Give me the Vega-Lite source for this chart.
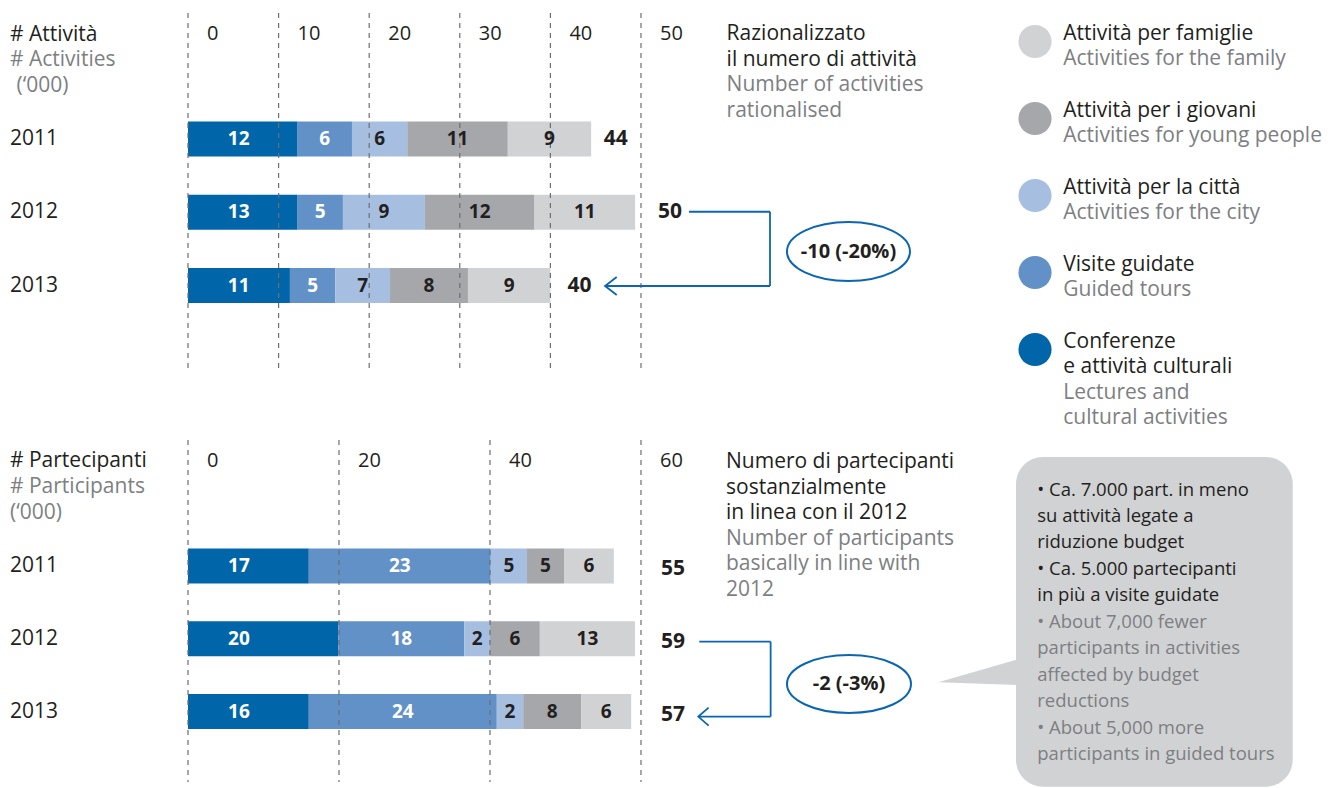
{
  "$schema": "https://vega.github.io/schema/vega-lite/v6.json",
  "width": 1330,
  "height": 788,
  "autosize": {"type": "none"},
  "padding": 0,
  "background": "white",
  "config": {
    "view": {"stroke": null},
    "axis": {"disable": true},
    "legend": {"disable": true},
    "scale": {"continuousPadding": 0},
    "text": {"font": "Open Sans", "fontSize": 21, "align": "left", "baseline": "alphabetic", "color": "#231f20"}
  },
  "datasets": {
    "act": [
      {"year": 2011, "cat": "Conferenze e attività culturali", "order": 1, "value": 12.1, "label": "12"},
      {"year": 2011, "cat": "Visite guidate", "order": 2, "value": 6.0, "label": "6"},
      {"year": 2011, "cat": "Attività per la città", "order": 3, "value": 6.1, "label": "6"},
      {"year": 2011, "cat": "Attività per i giovani", "order": 4, "value": 11.1, "label": "11"},
      {"year": 2011, "cat": "Attività per famiglie", "order": 5, "value": 9.2, "label": "9"},
      {"year": 2012, "cat": "Conferenze e attività culturali", "order": 1, "value": 12.1, "label": "13"},
      {"year": 2012, "cat": "Visite guidate", "order": 2, "value": 5.0, "label": "5"},
      {"year": 2012, "cat": "Attività per la città", "order": 3, "value": 9.05, "label": "9"},
      {"year": 2012, "cat": "Attività per i giovani", "order": 4, "value": 12.1, "label": "12"},
      {"year": 2012, "cat": "Attività per famiglie", "order": 5, "value": 11.1, "label": "11"},
      {"year": 2013, "cat": "Conferenze e attività culturali", "order": 1, "value": 11.25, "label": "11"},
      {"year": 2013, "cat": "Visite guidate", "order": 2, "value": 5.0, "label": "5"},
      {"year": 2013, "cat": "Attività per la città", "order": 3, "value": 6.05, "label": "7"},
      {"year": 2013, "cat": "Attività per i giovani", "order": 4, "value": 8.6, "label": "8"},
      {"year": 2013, "cat": "Attività per famiglie", "order": 5, "value": 9.1, "label": "9"}
    ],
    "part": [
      {"year": 2011, "cat": "Conferenze e attività culturali", "order": 1, "value": 16.0, "label": "17"},
      {"year": 2011, "cat": "Visite guidate", "order": 2, "value": 24.1, "label": "23"},
      {"year": 2011, "cat": "Attività per la città", "order": 3, "value": 4.8, "label": "5"},
      {"year": 2011, "cat": "Attività per i giovani", "order": 4, "value": 4.9, "label": "5"},
      {"year": 2011, "cat": "Attività per famiglie", "order": 5, "value": 6.6, "label": "6"},
      {"year": 2012, "cat": "Conferenze e attività culturali", "order": 1, "value": 19.9, "label": "20"},
      {"year": 2012, "cat": "Visite guidate", "order": 2, "value": 16.7, "label": "18"},
      {"year": 2012, "cat": "Attività per la città", "order": 3, "value": 3.4, "label": "2"},
      {"year": 2012, "cat": "Attività per i giovani", "order": 4, "value": 6.6, "label": "6"},
      {"year": 2012, "cat": "Attività per famiglie", "order": 5, "value": 12.6, "label": "13"},
      {"year": 2013, "cat": "Conferenze e attività culturali", "order": 1, "value": 16.0, "label": "16"},
      {"year": 2013, "cat": "Visite guidate", "order": 2, "value": 24.9, "label": "24"},
      {"year": 2013, "cat": "Attività per la città", "order": 3, "value": 3.5, "label": "2"},
      {"year": 2013, "cat": "Attività per i giovani", "order": 4, "value": 7.7, "label": "8"},
      {"year": 2013, "cat": "Attività per famiglie", "order": 5, "value": 6.6, "label": "6"}
    ],
    "act_tot": [
      {"year": 2011, "total": 44},
      {"year": 2012, "total": 50},
      {"year": 2013, "total": 40}
    ],
    "part_tot": [
      {"year": 2011, "total": 55},
      {"year": 2012, "total": 59},
      {"year": 2013, "total": 57}
    ],
    "ticks_act": [{"t": 0}, {"t": 10}, {"t": 20}, {"t": 30}, {"t": 40}, {"t": 50}],
    "ticks_part": [{"t": 0}, {"t": 20}, {"t": 40}, {"t": 60}],
    "legend": [
      {"cat": "Attività per famiglie", "order": 5, "it": "Attività per famiglie", "en": "Activities for the family"},
      {"cat": "Attività per i giovani", "order": 4, "it": "Attività per i giovani", "en": "Activities for young people"},
      {"cat": "Attività per la città", "order": 3, "it": "Attività per la città", "en": "Activities for the city"},
      {"cat": "Visite guidate", "order": 2, "it": "Visite guidate", "en": "Guided tours"},
      {"cat": "Conferenze e attività culturali", "order": 1, "it": "Conferenze\ne attività culturali", "en": "Lectures and\ncultural activities"}
    ]
  },
  "resolve": {"scale": {"x": "independent", "y": "independent"}},
  "layer": [
    {
      "layer": [
        {
          "data": {"name": "act"},
          "transform": [{"stack": "value", "groupby": ["year"], "sort": [{"field": "order", "order": "ascending"}], "as": ["x0", "x1"]}],
          "mark": {"type": "bar", "orient": "horizontal", "size": 35},
          "encoding": {
            "x": {"field": "x0", "type": "quantitative", "scale": {"domain": [-20.75, 126.05], "nice": false, "zero": false, "padding": 0}},
            "x2": {"field": "x1"},
            "y": {"field": "year", "type": "quantitative", "scale": {"domain": [2009.1024, 2019.86], "reverse": true, "nice": false, "zero": false, "padding": 0}},
            "color": {
              "field": "cat", "type": "nominal",
              "scale": {
                "domain": ["Conferenze e attività culturali", "Visite guidate", "Attività per la città", "Attività per i giovani", "Attività per famiglie"],
                "range": ["#0066a9", "#6191c7", "#a6bfe0", "#a6a7aa", "#d1d2d4"]
              }
            }
          }
        },
        {
          "data": {"name": "ticks_act"},
          "mark": {"type": "rule", "strokeDash": [5, 5], "color": "#6d6e71", "strokeWidth": 1.2},
          "encoding": {
            "x": {"field": "t", "type": "quantitative"},
            "y": {"datum": 2009.28},
            "y2": {"datum": 2014.126}
          }
        },
        {
          "data": {"name": "act"},
          "transform": [
            {"stack": "value", "groupby": ["year"], "sort": [{"field": "order", "order": "ascending"}], "as": ["x0", "x1"]},
            {"calculate": "datum.order == 1 ? 5.6 : (datum.x0 + datum.x1) / 2", "as": "xm"}
          ],
          "mark": {"type": "text", "align": "center", "baseline": "middle", "fontSize": 19, "fontWeight": "bold"},
          "encoding": {
            "x": {"field": "xm", "type": "quantitative"},
            "y": {"field": "year", "type": "quantitative"},
            "text": {"field": "label", "type": "nominal"},
            "color": {"condition": {"test": "datum.order <= 2", "value": "#ffffff"}, "value": "#231f20"}
          }
        },
        {
          "data": {"name": "ticks_act"},
          "mark": {"type": "text", "dx": 19, "fontSize": 20, "color": "#231f20"},
          "encoding": {
            "x": {"field": "t", "type": "quantitative"},
            "y": {"datum": 2009.6485},
            "text": {"field": "t", "type": "nominal"}
          }
        },
        {
          "data": {"name": "act_tot"},
          "mark": {"type": "text", "dx": 17, "baseline": "middle", "fontWeight": "bold", "fontSize": 21, "color": "#231f20"},
          "encoding": {
            "x": {"field": "total", "type": "quantitative"},
            "y": {"field": "year", "type": "quantitative"},
            "text": {"field": "total", "type": "nominal"}
          }
        },
        {
          "data": {"name": "act_tot"},
          "mark": {"type": "text", "baseline": "middle", "color": "#231f20"},
          "encoding": {
            "x": {"datum": -19.65},
            "y": {"field": "year", "type": "quantitative"},
            "text": {"field": "year", "type": "nominal"}
          }
        },
        {
          "data": {"values": [{}]},
          "mark": {"type": "text", "text": "# Attività", "color": "#231f20"},
          "encoding": {"x": {"datum": -19.65}, "y": {"datum": 2009.6621}}
        },
        {
          "data": {"values": [{}]},
          "mark": {"type": "text", "text": "# Activities", "color": "#7d7f82"},
          "encoding": {"x": {"datum": -19.65}, "y": {"datum": 2010.0102}}
        },
        {
          "data": {"values": [{}]},
          "mark": {"type": "text", "text": "(‘000)", "dx": 6.5, "color": "#7d7f82"},
          "encoding": {"x": {"datum": -19.65}, "y": {"datum": 2010.3583}}
        },
        {
          "data": {"values": [{}]},
          "mark": {"type": "text", "text": ["Razionalizzato", "il numero di attività"], "lineHeight": 25.5, "color": "#231f20"},
          "encoding": {"x": {"datum": 59.45}, "y": {"datum": 2009.6485}}
        },
        {
          "data": {"values": [{}]},
          "mark": {"type": "text", "text": ["Number of activities", "rationalised"], "lineHeight": 25.5, "color": "#7d7f82"},
          "encoding": {"x": {"datum": 59.45}, "y": {"datum": 2010.3515}}
        },
        {
          "data": {"values": [{}]},
          "mark": {"type": "rule", "color": "#0a66b0", "strokeWidth": 1.8},
          "encoding": {"x": {"datum": 55.3}, "x2": {"datum": 64.24}, "y": {"datum": 2011.993}}
        },
        {
          "data": {"values": [{}]},
          "mark": {"type": "rule", "color": "#0a66b0", "strokeWidth": 1.8},
          "encoding": {"x": {"datum": 64.24}, "y": {"datum": 2011.993}, "y2": {"datum": 2013.007}}
        },
        {
          "data": {"values": [{}]},
          "mark": {"type": "rule", "color": "#0a66b0", "strokeWidth": 1.8},
          "encoding": {"x": {"datum": 46.03}, "x2": {"datum": 64.24}, "y": {"datum": 2013.007}}
        },
        {
          "data": {"values": [{}]},
          "mark": {"type": "point", "shape": "M1.3,-1L0,0L1.3,1", "size": 324, "filled": false, "opacity": 1, "color": "#0a66b0", "strokeWidth": 1.8},
          "encoding": {"x": {"datum": 46.03}, "y": {"datum": 2013.007}}
        },
        {
          "data": {"values": [{}]},
          "mark": {"type": "point", "shape": "M-1.23,0A1.23,0.59,0,1,0,1.23,0A1.23,0.59,0,1,0,-1.23,0Z", "size": 10000, "filled": false, "opacity": 1, "color": "#0a66b0", "strokeWidth": 2},
          "encoding": {"x": {"datum": 72.9}, "y": {"datum": 2012.536}}
        },
        {
          "data": {"values": [{}]},
          "mark": {"type": "text", "text": "-10 (-20%)", "align": "center", "baseline": "middle", "fontWeight": "bold", "fontSize": 20, "color": "#231f20"},
          "encoding": {"x": {"datum": 72.9}, "y": {"datum": 2012.536}}
        }
      ]
    },
    {
      "layer": [
        {
          "data": {"name": "part"},
          "transform": [{"stack": "value", "groupby": ["year"], "sort": [{"field": "order", "order": "ascending"}], "as": ["x0", "x1"]}],
          "mark": {"type": "bar", "orient": "horizontal", "size": 35},
          "encoding": {
            "x": {"field": "x0", "type": "quantitative", "scale": {"domain": [-24.9, 151.26], "nice": false, "zero": false, "padding": 0}},
            "x2": {"field": "x1"},
            "y": {"field": "year", "type": "quantitative", "scale": {"domain": [2003.22, 2014.0515], "reverse": true, "nice": false, "zero": false, "padding": 0}},
            "color": {"field": "cat", "type": "nominal"}
          }
        },
        {
          "data": {"name": "ticks_part"},
          "mark": {"type": "rule", "strokeDash": [5, 5], "color": "#6d6e71", "strokeWidth": 1.2},
          "encoding": {
            "x": {"field": "t", "type": "quantitative"},
            "y": {"datum": 2009.268},
            "y2": {"datum": 2013.969}
          }
        },
        {
          "data": {"name": "part"},
          "transform": [
            {"stack": "value", "groupby": ["year"], "sort": [{"field": "order", "order": "ascending"}], "as": ["x0", "x1"]},
            {"calculate": "datum.order == 1 ? 6.75 : (datum.x0 + datum.x1) / 2", "as": "xm"}
          ],
          "mark": {"type": "text", "align": "center", "baseline": "middle", "fontSize": 19, "fontWeight": "bold"},
          "encoding": {
            "x": {"field": "xm", "type": "quantitative"},
            "y": {"field": "year", "type": "quantitative"},
            "text": {"field": "label", "type": "nominal"},
            "color": {"condition": {"test": "datum.order <= 2", "value": "#ffffff"}, "value": "#231f20"}
          }
        },
        {
          "data": {"name": "ticks_part"},
          "mark": {"type": "text", "dx": 19, "fontSize": 20, "color": "#231f20"},
          "encoding": {
            "x": {"field": "t", "type": "quantitative"},
            "y": {"datum": 2009.6392},
            "text": {"field": "t", "type": "nominal"}
          }
        },
        {
          "data": {"name": "part_tot"},
          "mark": {"type": "text", "dx": 20, "dy": 3, "baseline": "middle", "fontWeight": "bold", "fontSize": 21, "color": "#231f20"},
          "encoding": {
            "x": {"datum": 60},
            "y": {"field": "year", "type": "quantitative"},
            "text": {"field": "total", "type": "nominal"}
          }
        },
        {
          "data": {"name": "part_tot"},
          "mark": {"type": "text", "baseline": "middle", "color": "#231f20"},
          "encoding": {
            "x": {"datum": -23.58},
            "y": {"field": "year", "type": "quantitative"},
            "text": {"field": "year", "type": "nominal"}
          }
        },
        {
          "data": {"values": [{}]},
          "mark": {"type": "text", "text": "# Partecipanti", "color": "#231f20"},
          "encoding": {"x": {"datum": -23.58}, "y": {"datum": 2009.6392}}
        },
        {
          "data": {"values": [{}]},
          "mark": {"type": "text", "text": ["# Participants", "(‘000)"], "lineHeight": 25.5, "color": "#7d7f82"},
          "encoding": {"x": {"datum": -23.58}, "y": {"datum": 2010.0034}}
        },
        {
          "data": {"values": [{}]},
          "mark": {"type": "text", "text": ["Numero di partecipanti", "sostanzialmente", "in linea con il 2012"], "lineHeight": 25.5, "color": "#231f20"},
          "encoding": {"x": {"datum": 71.26}, "y": {"datum": 2009.653}}
        },
        {
          "data": {"values": [{}]},
          "mark": {"type": "text", "text": ["Number of participants", "basically in line with", "2012"], "lineHeight": 25.5, "color": "#7d7f82"},
          "encoding": {"x": {"datum": 71.26}, "y": {"datum": 2010.7045}}
        },
        {
          "data": {"values": [{}]},
          "mark": {"type": "rule", "color": "#0a66b0", "strokeWidth": 1.8},
          "encoding": {"x": {"datum": 67.72}, "x2": {"datum": 77.17}, "y": {"datum": 2012.04}}
        },
        {
          "data": {"values": [{}]},
          "mark": {"type": "rule", "color": "#0a66b0", "strokeWidth": 1.8},
          "encoding": {"x": {"datum": 77.17}, "y": {"datum": 2012.04}, "y2": {"datum": 2013.07}}
        },
        {
          "data": {"values": [{}]},
          "mark": {"type": "rule", "color": "#0a66b0", "strokeWidth": 1.8},
          "encoding": {"x": {"datum": 67.59}, "x2": {"datum": 77.17}, "y": {"datum": 2013.07}}
        },
        {
          "data": {"values": [{}]},
          "mark": {"type": "point", "shape": "M1.15,-1L0,0L1.15,1", "size": 324, "filled": false, "opacity": 1, "color": "#0a66b0", "strokeWidth": 1.8},
          "encoding": {"x": {"datum": 67.59}, "y": {"datum": 2013.07}}
        },
        {
          "data": {"values": [{}]},
          "mark": {"type": "point", "shape": "M-1.24,0A1.24,0.58,0,1,0,1.24,0A1.24,0.58,0,1,0,-1.24,0Z", "size": 10000, "filled": false, "opacity": 1, "color": "#0a66b0", "strokeWidth": 2},
          "encoding": {"x": {"datum": 87.55}, "y": {"datum": 2012.622}}
        },
        {
          "data": {"values": [{}]},
          "mark": {"type": "text", "text": "-2 (-3%)", "align": "center", "baseline": "middle", "fontWeight": "bold", "fontSize": 20, "color": "#231f20"},
          "encoding": {"x": {"datum": 87.55}, "y": {"datum": 2012.622}}
        },
        {
          "data": {"values": [{}]},
          "mark": {"type": "point", "shape": "M0,0L8.3,-2.4L8.3,0.27Z", "size": 400, "filled": true, "opacity": 1, "color": "#d1d2d4", "strokeWidth": 0},
          "encoding": {"x": {"datum": 99.38}, "y": {"datum": 2012.5986}}
        },
        {
          "data": {"values": [{}]},
          "mark": {"type": "rect", "cornerRadius": 27, "color": "#d1d2d4"},
          "encoding": {"x": {"datum": 109.67}, "x2": {"datum": 146.32}, "y": {"datum": 2009.5017}, "y2": {"datum": 2014.0337}}
        },
        {
          "data": {"values": [{}]},
          "mark": {"type": "text", "text": ["• Ca. 7.000 part. in meno", "su attività legate a", "riduzione budget", "• Ca. 5.000 partecipanti", "in più a visite guidate"], "fontSize": 18.5, "lineHeight": 26.4, "color": "#231f20"},
          "encoding": {"x": {"datum": 112.49}, "y": {"datum": 2010.0337}}
        },
        {
          "data": {"values": [{}]},
          "mark": {"type": "text", "text": ["• About 7,000 fewer", "participants in activities", "affected by budget", "reductions", "• About 5,000 more", "participants in guided tours"], "fontSize": 18.5, "lineHeight": 26.4, "color": "#7d7f82"},
          "encoding": {"x": {"datum": 112.49}, "y": {"datum": 2011.8522}}
        }
      ]
    },
    {
      "data": {"name": "legend"},
      "transform": [
        {"calculate": "5 - datum.order", "as": "slot"},
        {"calculate": "datum.slot + (length(split(datum.it, '\\n')) - 1) * 25.3 / 77", "as": "enslot"}
      ],
      "layer": [
        {
          "mark": {"type": "point", "shape": "circle", "filled": true, "opacity": 1, "size": 1100, "strokeWidth": 0},
          "encoding": {
            "x": {"datum": 93.49, "scale": {"domain": [-20.75, 126.05], "nice": false, "zero": false, "padding": 0}},
            "y": {"field": "slot", "type": "quantitative", "scale": {"domain": [-0.539, 9.695], "reverse": true, "nice": false, "zero": false, "padding": 0}},
            "color": {"field": "cat", "type": "nominal"}
          }
        },
        {
          "mark": {"type": "text", "lineBreak": "\n", "lineHeight": 25.3, "dy": -1.5, "color": "#231f20"},
          "encoding": {
            "x": {"datum": 96.61},
            "y": {"field": "slot", "type": "quantitative"},
            "text": {"field": "it", "type": "nominal"}
          }
        },
        {
          "mark": {"type": "text", "lineBreak": "\n", "lineHeight": 25.3, "dy": 23.8, "color": "#7d7f82"},
          "encoding": {
            "x": {"datum": 96.61},
            "y": {"field": "enslot", "type": "quantitative"},
            "text": {"field": "en", "type": "nominal"}
          }
        }
      ]
    }
  ]
}
